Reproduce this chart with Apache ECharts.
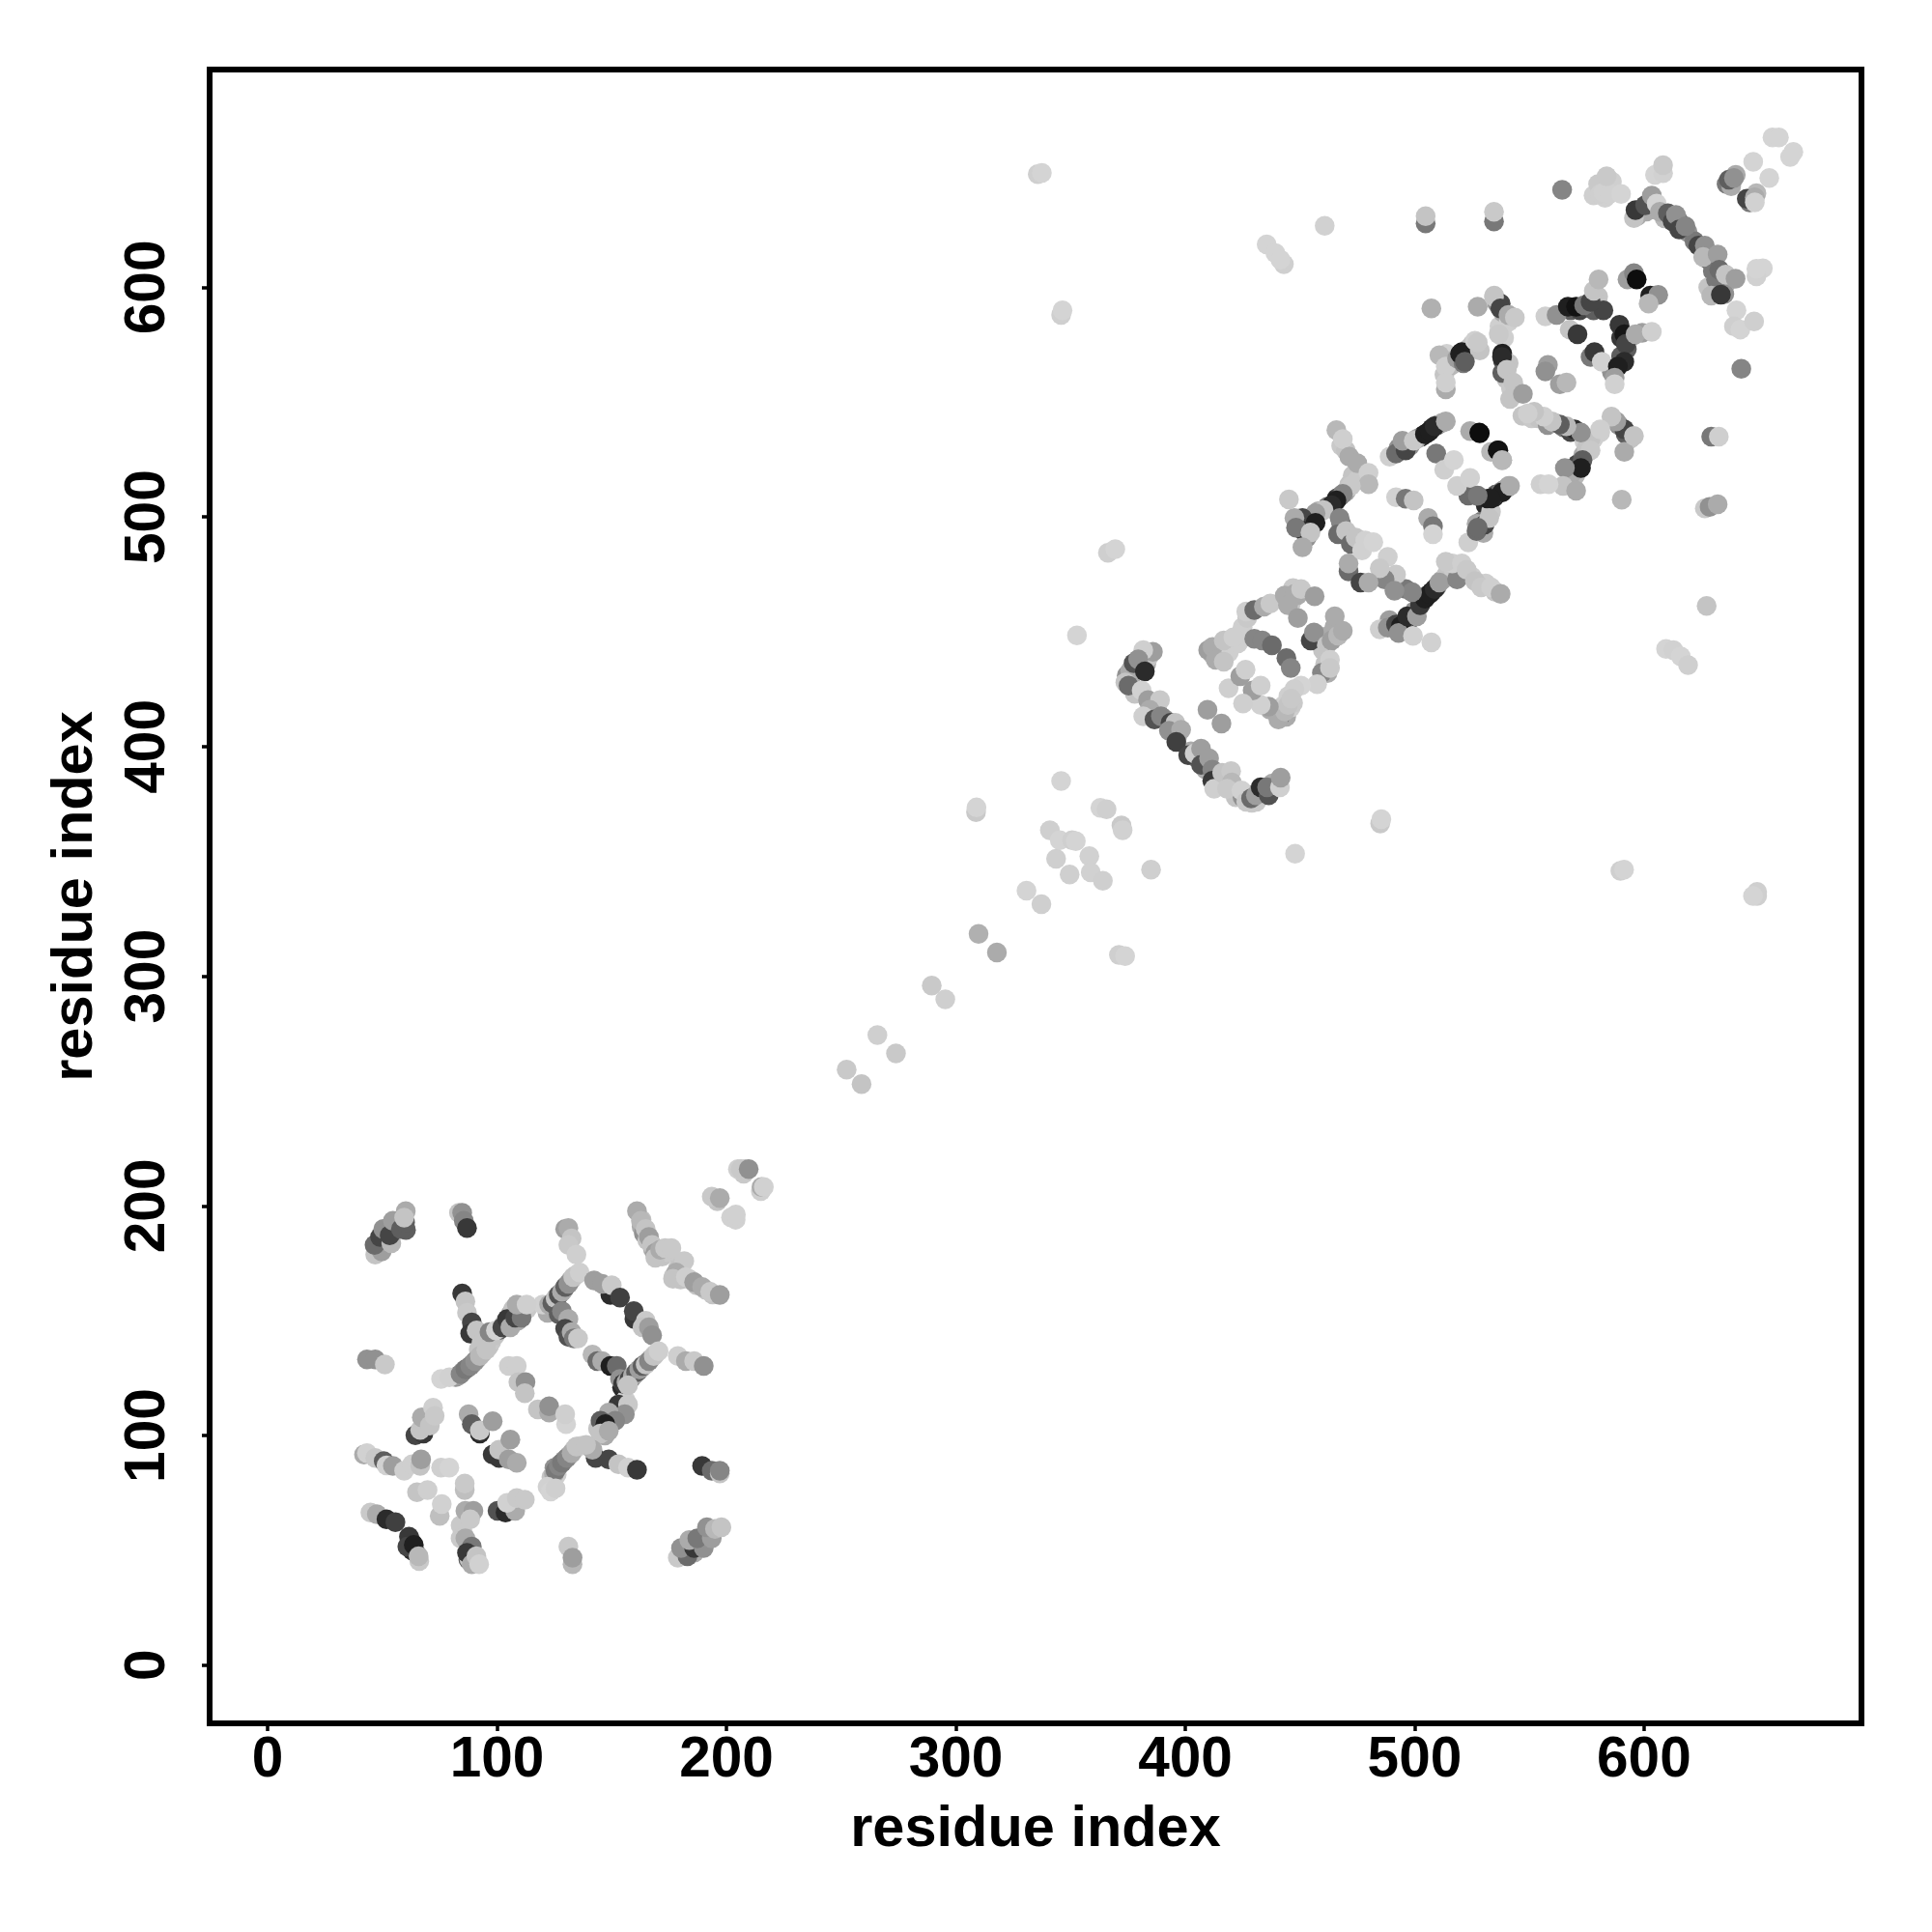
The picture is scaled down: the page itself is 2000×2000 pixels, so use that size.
<!DOCTYPE html>
<html><head><meta charset="utf-8">
<style>html,body{margin:0;background:#fff}#c{width:2000px;height:2000px}</style>
<script src="https://cdn.jsdelivr.net/npm/echarts@6/dist/echarts.min.js"></script></head>
<body><div id="c"></div>
<script>
const tickValues=[0,100,200,300,400,500,600];
const axisTitle='residue index';
// each row: residue i, residue j, score (0 = faint, 1 = strong)
const lowerPack=[[154.5,121,.8],[156,122.5,.55],[157,123.8,.3],[158.5,125,.5],[160,126.5,.25],[161.5,128,.5],[163,129.5,.25],[165,131.5,.4],[167,133.5,.2],[169,135.5,.16],[123,155.5,.5],[124.8,158.5,.3],[126.2,160.5,.4],[127.6,162,.2],[129,163.6,.35],[130.4,165.4,.2],[132,167.5,.3],[134.5,170,.16],[82,125.5,.4],[83,126,.35],[85,127.8,.35],[87.2,129.5,.3],[89.3,131.3,.3],[91.4,133.5,.2],[93.8,136,.2],[96.5,139,.2],[97.5,141,.18],[99,143.5,.2],[92,137.5,.2],[94,143,.4],[101,146,.6],[103.3,149,.2],[106.8,149.5,.8],[109,150,.3],[111,153,.2],[113,155,.18],[106,153,.3],[107,155,.2],[125,86,.4],[127.5,87.5,.3],[129.3,89.3,.35],[131.4,91.3,.2],[133.5,93.8,.18],[136.5,95.5,.16],[123.7,82,.2],[126,83,.16],[146,103,.8],[148,107,.5],[150,109,.7],[152,111.5,.6],[154,112,.3],[156,115.5,.16],[147,100,.3],[144,103,.2],[48,182,.3],[51.5,185,.45],[52,188.5,.5],[56,190.5,.5],[57,192.5,.3],[60,190.5,.5],[60.3,189.5,.6],[62.5,54,.7],[64.5,49,.6],[63,50,.8],[87.5,46,.6],[85,58,.2],[88,46,.2],[90,45.5,.18],[186,49,.3],[189,53,.3],[192,57,.3],[181,49.5,.3],[184,50,.2],[163,191,.3],[164,188,.4],[165.5,185,.2],[168,181,.3],[170,178.5,.3],[172,178,.2],[174.5,180,.18],[179,173,.2],[177,169.5,.18],[180,168,.2],[184,168,.2],[187,165.5,.2],[191,163.5,.2],[194,161.5,.2],[163,194,.2],[207.5,214,.18],[208,216,.18],[196,202,.2],[215,206.5,.16],[204,194,.15],[205,216,.16]];
const middlePack=[[376,429,.3],[374.5,431,.4],[378,423,.2],[385,419,.2],[386,417,.3],[388,415,.5],[391,412,.4],[394,409,.2],[396.5,404.5,.3],[402.5,398,.3],[405,395,.5],[408.5,393,.4],[409,390,.3],[413,387,.3],[418,386,.2],[422,378,.2],[425,378,.4],[427,379,.5],[429,375.5,.18],[431,376,.18],[434,380,.5],[438,384,.3],[383,436,.3],[384,439,.2],[376,433,.3],[442,414,.25],[441.5,416,.18],[443,418,.16],[445,422,.16],[444,413,.3],[446,417,.16],[447,419,.18],[437,416,.3],[412,440,.25],[414,441,.2],[418,444,.2],[419,441,.16],[423,445,.16],[425,452,.16],[424,449,.16],[427,456,.18],[445,464,.2],[447,469,.18],[446,462,.18],[449,466,.3],[457,449,.3],[462,448,.3],[465,452,.3],[460,442,.2],[461,436,.2],[462,432,.3],[503,463,.8],[505,465.5,.7],[507.5,467.5,.8],[509.5,469.5,.6],[512,472.5,.3],[514,475,.2],[517,477,.18],[519,475,.3],[500,459,.4],[497,454,.8],[495,451,.55],[492,451,.3],[489,455,.35],[525,474,.16],[531,471,.16],[535,467.5,.2],[466,508,.8],[464.5,505.5,.7],[467.5,509,.6],[470,511,.3],[471.5,514,.2],[476,520,.2],[478,517,.2],[474,519,.2],[462,504.5,.5],[458,502.5,.3],[452,497.5,.7],[450,495,.4],[453,491,.4],[468,497,.5],[473,491,.15],[476,490,.15],[468,531,.18],[470,529,.2],[473,518,.2],[475,516,.18]];
const upperPack=[[503,535,.8],[505.5,536.5,.75],[507.5,538.5,.8],[510,540,.5],[512,541,.3],[501,534,.3],[498,531,.4],[493,530,.4],[531,505,.8],[533,507,.7],[535.5,509.8,.6],[538.5,511.5,.4],[540,512.5,.3],[529,498,.5],[530,493,.3],[527,497,.3],[514,571,.15],[516,568,.2],[513,562,.2],[516,566,.25],[520,570,.7],[523,573,.2],[525,575,.2],[537,583,.16],[539,578,.16],[538.5,568,.7],[540,560,.2],[542,556,.18],[544,555,.2],[536,593,.4],[538.5,589,.3],[541,585,.16],[568,590,.6],[572,590,.7],[578,590,.6],[579,594,.4],[580,596,.2],[590,578,.75],[592.5,573,.6],[594,578,.25],[590,570,.6],[586,563,.4],[547,544,.2],[551,543,.18],[554,543,.2],[558,540,.4],[561,541,.3],[565,539,.5],[568,537,.7],[574,533,.16],[578,534,.16],[589,540,.4],[594,534,.2],[592,536,.6],[571,523,.7],[573.5,527,.3],[575,530,.2],[570,518,.25],[568,518,.3],[615,629,.5],[619,624,.4],[622,620,.5],[628,612,.6],[630,607,.5],[633,605,.3],[636,602,.3],[635,597,.4],[628,600,.2],[601,633,.3],[597,631,.3],[604,636,.2],[609,630,.25],[636,645,.5],[638,644,.3],[640,649,.3],[646,637,.5],[649,641,.25],[578,640,.16],[580,645,.18],[586,646,.16],[583,639,.15]];
const lowTopLeft=[[46.9,178.8,.2],[49.7,180.2,.35],[46.6,183,.55],[49,186.5,.7],[50.4,190,.4],[53.9,183.7,.25],[53.2,187.2,.7],[54.6,193.5,.35],[58.1,190,.6],[59.9,192.8,.6],[60.2,197.7,.3],[59.5,194.9,.2],[83.4,197,.2],[84.8,197,.4],[85.5,193.5,.45],[86.9,190.4,.75]];
const lowCentre=[[129.7,190,.35],[131.1,190.4,.3],[132.5,185.8,.2],[131.1,183,.18],[134.6,178.8,.16],[122,153.5,.3],[119.9,157,.15],[122.7,157,.3],[124.1,157.7,.6],[125.5,159.8,.2],[126.9,161.2,.65],[128.3,162.6,.3],[129.7,164.7,.6],[131.1,166.1,.4],[133.2,169,.2],[136,171,.16],[126.9,152.8,.6],[128.3,154.2,.45],[131.1,150.7,.3],[129.7,146.5,.7],[131.1,143,.65],[132.5,145.1,.3],[133.5,142.3,.5],[135.3,142.3,.18],[149.4,161.2,.8],[142.3,167.6,.35],[145.8,166.1,.35],[150,165.4,.18],[153.6,160.1,.72],[159.9,150.7,.75],[159.6,154.2,.7],[164.8,150,.18],[163.4,147.2,.2],[166.2,147.2,.35],[167.6,143.7,.4]];
const lowRight=[[141.6,135.3,.25],[143.7,132.4,.55],[145.8,132.4,.3],[149.4,130.3,.85],[152.2,130.3,.55],[153.6,124.7,.4],[155,122.6,.75],[156.4,123.3,.3],[157.8,124.7,.7],[159.2,126.1,.3],[160.6,127.5,.6],[162,128.9,.35],[163.4,130.3,.6],[164.8,131,.2],[166.2,132.4,.45],[168.3,134.6,.2],[170.4,136.7,.16],[157.1,121.9,.2],[178.8,134.6,.16],[182.3,132.4,.3],[185.9,132.4,.18],[190.1,130.3,.4],[152.9,113.5,.75],[157.1,113.5,.18],[155.7,109.3,.4],[148.7,110,.3],[151.5,106.5,.45],[145.1,106.5,.6],[147.2,105,.85],[145.1,100.9,.2],[148.7,102,.3],[143,90.3,.7],[148.7,89.6,.7],[141.6,93.8,.3],[152.9,87.5,.2],[157.1,86.1,.15],[161,85.1,.75],[124.8,83.3,.3],[125.5,84.7,.5],[126.9,86.8,.45],[128.3,88.2,.5],[130.4,90.3,.45],[132.5,92.4,.3],[134.6,95.2,.2],[138.8,95.9,.2],[122,77.7,.15],[123.4,75.6,.14],[125.5,77,.16],[189.4,86.8,.75],[193.6,84.7,.55],[197.1,83.5,.2],[197.1,84.7,.45]];
const lowBottom=[[178.8,46.8,.18],[183,47.5,.55],[180.2,51,.4],[185.9,51,.75],[183.8,54.5,.3],[190.1,51,.4],[187.3,55.2,.5],[193.6,55.2,.35],[191.5,60.1,.4],[195,59.4,.25],[197.8,60.1,.2],[131.1,51.7,.18],[132.9,44,.25],[132.9,46.8,.35],[44.8,66.5,.18],[47.6,65.8,.3],[51.8,63.6,.8],[55.7,62.3,.72],[61.6,56,.75],[60.9,51.7,.7],[63.7,52.4,.85],[66.1,45.4,.18],[65.8,47.5,.25],[84.1,60.9,.18],[84.1,55.2,.18],[86.2,67.2,.3],[89.7,67.2,.35],[88.3,63.6,.18],[86.2,55.2,.3],[89,51.7,.5],[86.9,48.9,.75],[89,44,.3],[91,47.5,.2],[92.2,44,.15],[75,65,.22],[75.9,70.2,.15],[65.1,75.3,.2],[69.7,76.3,.16],[85.9,76.3,.22],[85.9,79.1,.18],[75.6,86.1,.16],[79.2,86.1,.14],[100.2,67.2,.65],[103.7,66.5,.8],[107.9,67.2,.3],[104.4,70.7,.15],[108.6,72.8,.18],[112.1,72.1,.18]];
const lowLeft=[[42,91.7,.3],[43.3,92.4,.15],[46.9,90.3,.18],[50.6,88.9,.6],[51.8,87,.15],[54.6,86.8,.35],[59.5,84.7,.16],[63,87.5,.16],[66.5,86.8,.2],[66.9,89.6,.35],[64.4,100.2,.7],[67.9,100.9,.75],[66.5,102.5,.2],[67.2,107.9,.3],[70.7,104.4,.2],[72.1,112.1,.16],[72.8,108.6,.18],[87.6,109.3,.3],[89,105,.6],[92.5,100.9,.8],[92.5,102.3,.18],[98.1,106.2,.35],[98.1,91.7,.75],[100.9,90.3,.75],[100.9,93.8,.2],[105.8,98.3,.35],[105.1,89.6,.35],[108.6,88.2,.3],[105.1,130.3,.16],[108.6,130.3,.16],[109.3,123.3,.2],[112.4,123.3,.4],[112.1,118.4,.2],[117.8,111.4,.2],[122.7,110,.3],[122.7,112.8,.4],[130.1,105,.14],[129.7,109.3,.16],[43.3,133.2,.4],[46.9,133.2,.4],[51.1,131,.18]];
const lowStrand=[[84.8,161.9,.75],[86.2,158.4,.2],[86.9,153.5,.18],[89,149.3,.7],[88.3,144.4,.75],[91.1,145.8,.2],[93.2,140.2,.2],[75.6,124.7,.14],[79.2,125.4,.15],[84.1,126.8,.45],[86.2,128.9,.5],[88.3,130.3,.45],[90.4,132.4,.4],[92.5,134.6,.25],[95.3,137.4,.2],[96.7,145.1,.45],[99.5,145.8,.15],[102.3,147.2,.7],[104.4,150.7,.75],[105.8,147.2,.3],[107.9,151.4,.7],[110.7,151.4,.5],[108.6,157,.3],[112.9,157,.16]];
const lowUpper=[[206.2,216,.18],[209.7,216,.4],[215.3,208.3,.3],[216.3,208.3,.15],[193.6,204,.18],[197.1,203.4,.3],[202,195,.15],[204.1,196.3,.15],[161,197.7,.3],[162.7,193.5,.25],[164.8,190,.2],[166.2,186.5,.35],[167.6,183,.2],[169,179.5,.35],[169,177.4,.2],[171.1,180.9,.3],[173.2,181.6,.18],[176,181.6,.18],[181.6,176,.18],[178.1,171,.3],[176.7,168.3,.2],[182.3,169,.16],[185.9,166.8,.35],[189.4,164.7,.3],[192.9,162.6,.18],[197.1,161.2,.35]];
const midSparse=[[335.7,649.3,.16],[337.5,649.8,.14],[460.8,626.8,.15],[435.5,618.7,.14],[439.3,614.9,.14],[443,610,.16],[441.5,612,.14],[345.9,588,.16],[346.5,590,.14],[366.3,484.4,.16],[369.5,486,.14],[352.8,448.4,.14],[627.3,461.3,.2],[609.6,442.5,.14],[612.8,442,.15],[616,439.3,.14],[619.2,435.5,.16],[345.9,385,.14],[308.8,371.5,.18],[309,373.5,.14],[341,363.6,.16],[345.3,359.3,.14],[350.7,359.3,.16],[352.3,358.8,.14],[343.7,351.2,.16],[349.6,344.3,.16],[358.2,352.3,.15],[358.8,345.3,.15],[364.1,341.6,.16],[363,373.3,.14],[365.7,372.7,.16],[372.2,365.7,.18],[372.7,363.6,.15],[385.1,346.4,.16],[485,366.5,.18],[485.5,368.4,.14],[447.9,353.4,.14],[589.7,345.9,.16],[591.3,346.4,.14],[649.3,335,.16],[649.3,336.7,.16],[647.5,335,.14],[330.8,337.3,.14],[337.3,331.4,.16],[309.9,318.5,.28],[317.9,310.4,.3],[371.1,309.3,.16],[373.8,308.8,.14],[289.5,295.9,.18],[295.4,290,.16],[265.8,274.4,.16],[273.9,266.4,.18],[252.4,259.4,.18],[258.9,253,.2]];
const chainA=[[385.9,441.3,.35],[381.7,442,.16],[377.5,436.3,.65],[379.5,438,.4],[382.4,432.8,.8],[373.9,427.9,.2],[375.3,426.5,.55],[381,424.4,.15],[383.8,420.2,.35],[389,420.2,.18],[384.5,416,.3],[381.7,413.2,.16],[386.6,411.8,.65],[389.4,413.2,.45],[393.6,410.4,.7],[395.7,410.4,.2],[392.9,406.9,.4],[398.2,407.3,.3],[396.1,402,.72],[401.3,396.3,.7],[404.1,397,.16],[406.9,399.1,.35],[406.9,392.1,.65],[410.4,394.9,.35],[411.8,390,.45],[411.8,385.1,.75],[412.6,381.6,.16],[416.1,388.6,.2],[420,389.3,.18],[420.3,384.4,.25],[418.2,381.6,.18],[424.5,380.9,.15],[426.6,376,.18],[428.7,377.4,.55],[430.8,378.8,.35],[432.9,382.3,.8],[436.4,378.8,.65],[435.7,382.3,.5],[441.3,382.3,.16],[441.6,386.5,.35]];
const ringB=[[410,442,.35],[411.9,443.4,.3],[413.3,437.8,.3],[416.8,446.2,.2],[416.8,437,.2],[421,447.6,.16],[426.6,458.8,.16],[430.1,459.5,.55],[434.3,460.9,.3],[437.1,462.3,.18],[443.4,465.8,.3],[447.7,466.5,.3],[450.5,468.6,.18],[456.4,465.5,.35],[444.8,461.6,.3],[449.1,456,.35],[465.2,456.7,.3],[454.7,446.2,.7],[456.1,449.7,.4],[461.7,444.1,.2],[463.8,446.2,.35],[466.6,448.3,.25],[468.7,450.4,.3],[463.1,437.8,.16],[459.6,432.1,.45],[463.1,434.2,.18],[457.5,427.2,.15],[450.5,426.5,.14],[447.6,425.1,.16],[441.3,413.2,.65],[440.6,411.8,.3],[443.4,415.3,.25],[444.8,418.1,.2],[446.2,420.9,.18],[436.4,417.4,.35],[432.9,418.1,.15],[429.4,424.4,.35],[432.9,426.5,.16],[425.2,418.8,.16],[418.9,425.4,.16],[424,430.7,.35],[426.3,433.5,.16],[430.1,446.9,.45],[433.6,446.2,.45],[437.8,444.1,.55],[444.1,438.5,.55],[446,434.2,.45],[409.7,416,.35],[415.8,410,.35]];
const stepC=[[484.8,451,.16],[488.3,451.8,.4],[491.9,453.2,.7],[494,452.5,.85],[493,449.5,.4],[499.3,448.2,.15],[507.3,445.4,.15],[496.8,456.7,.8],[501,456.7,.35],[502.4,461.6,.75],[504.5,464.4,.85],[506.6,466.5,.85],[508.7,468.6,.8],[510.8,471.4,.35],[518.5,472.8,.45],[516.4,479.8,.16],[513.6,480.5,.18],[520.6,479.8,.16],[522.7,477,.18],[526.3,472.1,.2],[529,469.3,.18],[533.3,469.3,.16],[537.5,466.5,.3],[496.1,468.6,.5],[498.9,467.2,.45],[488.3,482.6,.16],[491.9,474.9,.18],[486.9,472.8,.45],[484.8,477.7,.18],[491.2,467.9,.4],[471.2,476.3,.55],[471.2,479.8,.3],[476.4,471.4,.7],[479.9,471.4,.3]];
const stepD=[[465.9,537.8,.25],[468.7,533.9,.16],[471.5,526.2,.3],[475,523.4,.3],[479.9,519.2,.16],[479.9,514.2,.25],[472.2,513.5,.18],[468.7,510,.45],[465.9,507.2,.85],[463.8,505.1,.8],[460.3,503,.2],[456.8,501.6,.35],[451.1,499.5,.7],[447.6,499.5,.3],[456.8,497.4,.85],[451.8,493.9,.8],[448.3,495.3,.5],[454.6,493.2,.2],[451.1,486.8,.3],[445.2,507.6,.18],[467.3,499.5,.45],[466.6,492.5,.55],[470.1,493.9,.2],[472.2,488.3,.55],[474.3,491,.2],[477.1,485.4,.15],[478.5,489.7,.15],[482,489,.14]];
const ringE=[[491.9,508.6,.15],[496.1,507.9,.5],[499.6,507.2,.2],[505.9,499.5,.3],[508,496,.5],[508,492.5,.14],[523.4,488.9,.16],[527,493.9,.55],[530.5,496.7,.7],[533.3,502.3,.18],[531.9,507.9,.85],[534.7,508.6,.8],[537.5,510.7,.5],[541,513.5,.3],[527,509.3,.4],[523.4,509.3,.55],[518.5,513.5,.16],[524.2,517,.15],[489.1,526.2,.16],[491.9,527.6,.55],[496.1,529,.7],[494.7,533.2,.35],[499.6,533.2,.18],[504.5,536,.85],[506.6,537.4,.85],[508.7,539.5,.8],[513.6,541.6,.3],[509.4,527.6,.5],[512.9,520.6,.16],[517.1,524.8,.14],[524.2,537.4,.3],[528.4,536.4,.92],[533.3,528.3,.25],[536.5,529,.9],[538.2,524.8,.3]];
const upperF=[[507.3,590.8,.28],[504.8,627.8,.5],[504.8,631,.2],[510.8,570.4,.25],[513.6,565.5,.16],[513.6,555.6,.3],[513.6,558.5,.16],[518.5,569,.35],[520.6,571.8,.85],[521.3,566.9,.5],[526.3,576.7,.16],[528.4,572.5,.2],[534.7,596.4,.2],[537.5,592.9,.7],[541,587.9,.2],[536.8,580.2,.16],[538.2,571.1,.85],[541,566.9,.2],[538.2,562.7,.6],[534.6,628.7,.5],[534.6,632.9,.18],[527.5,591.5,.3],[534.6,595.7,.2],[537.4,590.8,.7],[540.9,588,.3],[543.7,586.8,.18],[519.8,571,.85],[521.9,567.6,.6],[527.5,576,.18],[536.7,579.5,.18],[538.1,569.7,.8],[540.2,564.1,.2],[543,558.5,.2],[541.6,551.4,.2],[547.2,553.6,.35]];
const upperG=[[558.1,566.2,.35],[557,563.4,.4],[563.3,557.8,.35],[566.2,558.5,.25],[557,587.3,.16],[561.9,588,.4],[566.8,591.5,.85],[570.4,591.5,.9],[573.9,592.2,.5],[582.3,590,.7],[576.7,593.6,.7],[578.1,598.5,.2],[580.2,603.4,.25],[567.6,581.6,.2],[571,579.5,.75],[576.7,569.7,.5],[578.4,571.8,.75],[581.6,567.6,.15],[589.3,583.7,.75],[591.4,579.5,.88],[592.1,575.3,.7],[599.2,580.2,.35],[596.3,579.5,.3],[603.4,580.6,.16],[591.4,567.6,.8],[588.6,565.5,.85],[587.2,560.6,.35],[587.2,557.8,.15],[592.8,603.4,.35],[595.6,606.2,.45],[596.8,603.4,.92],[602.7,596.4,.85],[606.2,596.7,.4],[602,592.9,.25],[564.3,642.4,.45]];
const upperH=[[580.9,640.6,.16],[582.3,641.3,.15],[585,640.6,.15],[590,640.6,.14],[583.7,648.3,.18],[604.8,649,.14],[608.3,649.7,.15],[608.3,653.2,.18],[595.6,630.1,.2],[596.3,633.6,.75],[600.5,635.7,.65],[603.4,639.9,.35],[605.5,636.4,.14],[606.9,632.9,.3],[610.4,632.2,.6],[612.5,628.7,.7],[613.9,631.5,.4],[615.3,625.2,.7],[618.1,626.6,.45],[623.7,618.1,.7],[626.5,618.1,.4],[625.8,613.2,.25],[632.1,614.3,.35],[631.4,603.4,.5],[632.8,607.6,.55],[635.6,605.5,.2],[639.9,603.7,.35],[629.3,596.4,.25],[633.5,596.8,.75],[651.8,608.3,.14],[649,604.8,.15],[649,608,.14],[640.3,590,.14],[639.2,583,.16],[642,581.6,.14],[648,585.1,.16],[642.4,564.5,.45],[629.3,535,.5],[632.6,535,.16],[626.5,503.7,.18],[628.6,504.4,.4],[632.1,505.5,.3],[590.3,507.5,.25],[637,646.9,.6],[639.2,647.6,.4],[647.6,654.6,.14],[654.6,647.6,.14],[644.8,638.5,.7],[648.3,639.2,.3],[648.3,637,.15],[656,665.2,.14],[658.8,665.2,.14],[663.7,656.7,.14],[665.1,658.9,.14]];
const upperI=[[591.4,528.3,.3],[591.4,538.1,.7],[595.6,535.3,.2],[587.9,541.6,.35],[585.8,543.7,.2],[580.9,536.7,.16],[576.7,533.9,.2],[580.9,538.1,.16],[576.7,529,.18],[573.2,524.8,.6],[572.5,521.3,.85],[565.5,521.3,.4],[564.7,513.5,.2],[570.4,511.4,.3],[554.9,514.2,.16],[558.4,514.2,.14],[569.7,538.1,.8],[572.5,536.7,.4],[566.2,539.5,.25],[563.3,540.2,.6],[559.8,541.6,.2],[556.3,543.7,.16],[552.1,545.8,.2],[549.3,545.1,.16],[528.2,536.7,.92],[536.2,529,.9],[538.1,524.8,.25],[538.1,510.7,.85],[533.2,507.9,.85],[541.6,513.5,.3],[527.5,509.3,.5],[532.5,499.5,.2],[527.5,495.3,.55]];
const clusters=[lowerPack,middlePack,upperPack,lowTopLeft,lowCentre,lowRight,lowBottom,lowLeft,lowStrand,lowUpper,midSparse,chainA,ringB,stepC,stepD,ringE,upperF,upperG,upperH,upperI];
const grey=s=>{const v=Math.round(255*(1-Math.min(1,s+.03)));return `rgb(${v},${v},${v})`;};
const tickFont={fontFamily:'"Liberation Sans",Arial,sans-serif',fontWeight:'bold',fontSize:58.5,color:'#000'};
const titleFont=Object.assign({},tickFont,{fontSize:59.5});
function axis(extra){return Object.assign({
  type:'value',min:-25.3,max:694.8,name:axisTitle,nameLocation:'middle',
  nameTextStyle:titleFont,splitLine:{show:false},
  axisLine:{show:true,onZero:false,lineStyle:{color:'#000',width:6}},
  axisTick:{show:true,length:8,inside:false,customValues:tickValues,lineStyle:{color:'#000',width:3.5}},
  axisLabel:Object.assign({show:true,customValues:tickValues,margin:9,hideOverlap:false,showMinLabel:true,showMaxLabel:true},tickFont)
},extra);}
const chart=echarts.init(document.getElementById('c'),null,{renderer:'canvas'});
chart.setOption({
  animation:false,backgroundColor:'#fff',
  grid:{left:217,top:72,width:1710,height:1712,show:true,borderColor:'#000',borderWidth:6,backgroundColor:'transparent'},
  xAxis:axis({nameGap:81}),
  yAxis:axis({nameGap:108,axisLabel:Object.assign({},axis({}).axisLabel,{rotate:90,margin:34})}),
  series:[{type:'scatter',symbol:'circle',symbolSize:20.5,silent:true,clip:false,
    data:clusters.flat().map(r=>({value:[r[0],r[1]],itemStyle:{color:grey(r[2]),opacity:1}}))}]
});
</script></body></html>
